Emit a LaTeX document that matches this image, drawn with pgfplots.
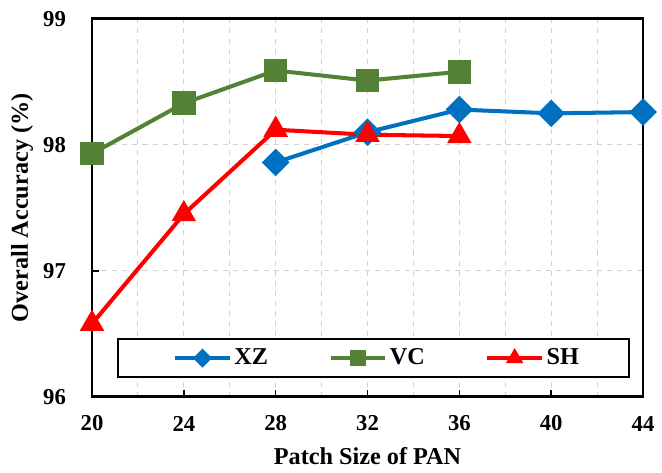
\documentclass[border=0pt]{standalone}
\usepackage{fontspec}
\setmainfont{Liberation Serif}
\usepackage{pgfplots}
\pgfplotsset{compat=1.18}
\definecolor{cXZ}{HTML}{0070C0}
\definecolor{cVC}{HTML}{548235}
\definecolor{cSH}{HTML}{FF0000}
\begin{document}
\fontsize{13.5}{16}\selectfont\bfseries
\begin{tikzpicture}
\begin{axis}[
  name=ax,
  scale only axis,
  width=327.6pt, height=224.7pt,
  xmin=20, xmax=44, ymin=96, ymax=99,
  xtick={20,24,28,32,36,40,44},
  ytick={96,97,98,99},
  minor x tick num=1,
  minor tick length=0pt,
  major tick length=4pt,
  tick align=inside,
  tick style={black, line width=0.9pt},
  xtick pos=bottom, ytick pos=left,
  axis line style={line width=1.6pt},
  xmajorgrids=true, xminorgrids=true, ymajorgrids=true,
  major grid style={dash pattern=on 3pt off 3pt, black!18, line width=0.6pt},
  minor grid style={dash pattern=on 3pt off 3pt, black!18, line width=0.6pt},
  /pgf/number format/assume math mode=true,
  ticklabel style={font=\fontsize{13.5}{16}\selectfont\bfseries},
  xticklabel style={anchor=center, yshift=-15.9pt},
  yticklabel style={anchor=east, xshift=-10.8pt},
  xlabel={Patch Size of PAN},
  ylabel={Overall Accuracy (\%)},
  every axis x label/.style={at={(axis description cs:0.5,0)}, anchor=center, yshift=-35.3pt, font=\fontsize{14.4}{17}\selectfont\bfseries},
  every axis y label/.style={at={(axis description cs:0,0.5)}, xshift=-41.5pt, anchor=center, rotate=90, font=\fontsize{14.4}{17}\selectfont\bfseries},
  legend columns=3,
  legend style={at={(rel axis cs:0.0449,0.0497)}, anchor=south west, draw=black, line width=1.1pt,
    inner xsep=29pt, inner ysep=2.5pt,
    nodes={inner xsep=1pt, inner ysep=3pt},
    font=\fontsize{14.4}{17}\selectfont\bfseries,
    /tikz/every even column/.append style={column sep=31pt}},
  legend image code/.code={\path (-4pt,0) (33pt,0);\draw[mark repeat=2,mark phase=2,#1,every mark/.append style={scale=0.6}] plot coordinates {(0pt,0pt) (16.2pt,0pt) (32.4pt,0pt)};},
  every axis plot/.append style={line width=2.4pt},
]
\addplot[color=cXZ, mark=square*, mark size=4.6pt, mark options={rotate=45}] coordinates {
(28,97.86) (32,98.10) (36,98.28) (40,98.25) (44,98.26)};
\addlegendentry{XZ}
\addplot[color=cVC, mark=square*, mark size=5.8pt] coordinates {
(20,97.93) (24,98.33) (28,98.59) (32,98.51) (36,98.58)};
\addlegendentry{VC}
\addplot[color=cSH, mark=triangle*, mark size=6pt] coordinates {
(20,96.58) (24,97.45) (28,98.12) (32,98.08) (36,98.07)};
\addlegendentry{SH}
\end{axis}
\path ([shift={(-54.7pt,-42.9pt)}]ax.south west) rectangle ([shift={(7.1pt,11.2pt)}]ax.north east);
\end{tikzpicture}
\end{document}
